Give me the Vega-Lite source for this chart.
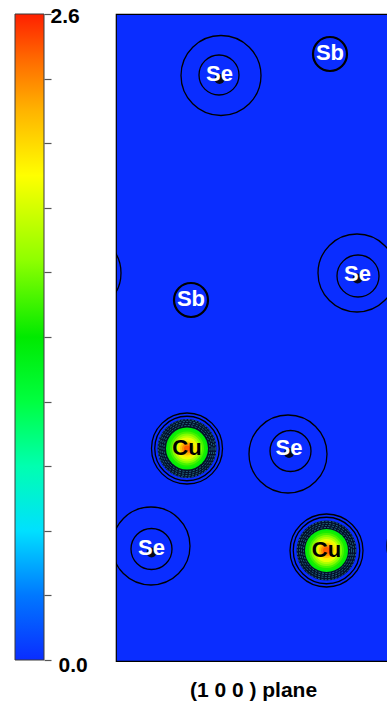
{
  "$schema": "https://vega.github.io/schema/vega-lite/v6.json",
  "padding": {"left": 14, "top": 5, "right": 0, "bottom": 0},
  "background": "white",
  "spacing": 72,
  "bounds": "flush",
  "config": {
    "font": "Liberation Sans",
    "view": {"stroke": null}
  },
  "datasets": {
    "atoms": [
      {"el": "Se", "x": 2.07, "y": 11.72},
      {"el": "Sb", "x": 4.28, "y": 12.14},
      {"el": "Se", "x": 4.83, "y": 7.73},
      {"el": "Sb", "x": 1.50, "y": 7.22},
      {"el": "Cu", "x": 1.42, "y": 4.25},
      {"el": "Se", "x": 3.46, "y": 4.24},
      {"el": "Se", "x": 0.71, "y": 2.25},
      {"el": "Cu", "x": 4.21, "y": 2.21}
    ],
    "rings": [
      {"kind": "contour", "x": 2.06, "y": 11.72, "r": 0.40},
      {"kind": "contour", "x": 2.10, "y": 11.71, "r": 0.80},
      {"kind": "sb", "x": 4.28, "y": 12.14, "r": 0.34},
      {"kind": "contour", "x": 4.84, "y": 7.70, "r": 0.42},
      {"kind": "contour", "x": 4.82, "y": 7.76, "r": 0.78},
      {"kind": "contour", "x": -0.68, "y": 7.76, "r": 0.78},
      {"kind": "sb", "x": 1.50, "y": 7.22, "r": 0.34},
      {"kind": "contour", "x": 1.42, "y": 4.25, "r": 0.71},
      {"kind": "contour", "x": 1.42, "y": 4.25, "r": 0.645},
      {"kind": "contour", "x": 3.49, "y": 4.20, "r": 0.41},
      {"kind": "contour", "x": 3.44, "y": 4.14, "r": 0.78},
      {"kind": "contour", "x": 0.71, "y": 2.24, "r": 0.41},
      {"kind": "contour", "x": 0.70, "y": 2.30, "r": 0.78},
      {"kind": "contour", "x": 6.20, "y": 2.30, "r": 0.78},
      {"kind": "contour", "x": 4.21, "y": 2.21, "r": 0.73},
      {"kind": "contour", "x": 4.21, "y": 2.21, "r": 0.665},
      {"kind": "band", "x": 1.42, "y": 4.25, "r": 0.59},
      {"kind": "band", "x": 4.21, "y": 2.21, "r": 0.60},
      {"kind": "dense", "x": 1.42, "y": 4.25, "r": 0.46},
      {"kind": "dense", "x": 1.42, "y": 4.25, "r": 0.50},
      {"kind": "dense", "x": 1.42, "y": 4.25, "r": 0.54},
      {"kind": "dense", "x": 1.42, "y": 4.25, "r": 0.575},
      {"kind": "dense", "x": 4.21, "y": 2.21, "r": 0.46},
      {"kind": "dense", "x": 4.21, "y": 2.21, "r": 0.50},
      {"kind": "dense", "x": 4.21, "y": 2.21, "r": 0.54},
      {"kind": "dense", "x": 4.21, "y": 2.21, "r": 0.585}
    ],
    "cu_shells": [
      {"x": 1.42, "y": 4.25,
       "r": [0.42, 0.38, 0.34, 0.30, 0.26, 0.22, 0.18, 0.14, 0.10, 0.06],
       "rho": [1.25, 1.35, 1.45, 1.58, 1.72, 1.88, 2.02, 2.18, 2.32, 2.45]},
      {"x": 4.21, "y": 2.21,
       "r": [0.43, 0.39, 0.35, 0.31, 0.27, 0.23, 0.19, 0.15, 0.11, 0.07],
       "rho": [1.25, 1.35, 1.45, 1.58, 1.72, 1.88, 2.02, 2.18, 2.32, 2.45]}
    ]
  },
  "hconcat": [
    {
      "width": 29,
      "height": 646,
      "data": {"values": [{"lo": 0, "hi": 2.6}]},
      "mark": {
        "type": "rect",
        "stroke": "#3a3a3a",
        "strokeWidth": 1,
        "fill": {
          "gradient": "linear",
          "x1": 0, "y1": 1, "x2": 0, "y2": 0,
          "stops": [
            {"offset": 0.0, "color": "#0a2dff"},
            {"offset": 0.1, "color": "#0078ff"},
            {"offset": 0.2, "color": "#00e0ff"},
            {"offset": 0.3, "color": "#00ffb0"},
            {"offset": 0.4, "color": "#00ff40"},
            {"offset": 0.5, "color": "#00ea00"},
            {"offset": 0.62, "color": "#90ff00"},
            {"offset": 0.75, "color": "#ffff00"},
            {"offset": 0.85, "color": "#ffb400"},
            {"offset": 0.93, "color": "#ff6a00"},
            {"offset": 1.0, "color": "#ff2000"}
          ]
        }
      },
      "encoding": {
        "y": {
          "field": "lo", "type": "quantitative",
          "scale": {"domain": [0, 2.6], "nice": false, "zero": false},
          "axis": {
            "orient": "right",
            "title": null,
            "values": [0, 0.26, 0.52, 0.78, 1.04, 1.3, 1.56, 1.82, 2.08, 2.34, 2.6],
            "domain": false,
            "grid": false,
            "tickSize": 7,
            "tickColor": "#555555",
            "tickWidth": 1.2,
            "labelExpr": "datum.value === 0 ? '0.0' : (datum.value === 2.6 ? '2.6' : '')",
            "labelFont": "Liberation Sans",
            "labelFontSize": 21,
            "labelFontWeight": "bold",
            "labelColor": "black",
            "labelFlush": false,
            "labelOverlap": false,
            "labelBound": false,
            "labelPadding": {"condition": {"test": "datum.value === 0", "value": 7}, "value": -1},
            "labelOffset": {"condition": {"test": "datum.value === 0", "value": 5}, "value": 2}
          }
        },
        "y2": {"field": "hi"}
      }
    },
    {
      "width": 275,
      "height": 647,
      "view": {"fill": "#0a2dff", "stroke": "black", "strokeWidth": 1.2},
      "title": {
        "text": "(1 0 0 ) plane",
        "orient": "bottom",
        "anchor": "middle",
        "font": "Liberation Sans",
        "fontSize": 21,
        "fontWeight": "bold",
        "color": "black",
        "offset": 19
      },
      "encoding": {
        "x": {"field": "x", "type": "quantitative",
              "scale": {"domain": [0, 5.5], "nice": false, "zero": false}, "axis": null},
        "y": {"field": "y", "type": "quantitative",
              "scale": {"domain": [0, 12.94], "nice": false, "zero": false}, "axis": null}
      },
      "layer": [
        {
          "data": {"name": "rings"},
          "transform": [{"filter": "datum.kind === 'band'"}],
          "mark": {"type": "point", "shape": "circle", "filled": true, "opacity": 1, "fill": "#04102a", "strokeWidth": 0, "clip": true},
          "encoding": {
            "size": {"field": "r", "type": "quantitative", "legend": null,
                     "scale": {"type": "pow", "exponent": 2, "domain": [0, 1], "range": [0, 10000]}}
          }
        },
        {
          "data": {"name": "rings"},
          "transform": [{"filter": "datum.kind === 'dense'"}],
          "mark": {"type": "point", "shape": "circle", "filled": false, "opacity": 0.7, "stroke": "#3cb4cc", "strokeWidth": 0.8, "strokeDash": [2, 1.5], "clip": true},
          "encoding": {
            "size": {"field": "r", "type": "quantitative", "legend": null,
                     "scale": {"type": "pow", "exponent": 2, "domain": [0, 1], "range": [0, 10000]}}
          }
        },
        {
          "data": {"name": "cu_shells"},
          "transform": [{"flatten": ["r", "rho"]}],
          "mark": {"type": "point", "shape": "circle", "filled": true, "opacity": 1, "strokeWidth": 0, "clip": true},
          "encoding": {
            "size": {"field": "r", "type": "quantitative", "legend": null,
                     "scale": {"type": "pow", "exponent": 2, "domain": [0, 1], "range": [0, 10000]}},
            "color": {
              "field": "rho", "type": "quantitative", "legend": null,
              "scale": {
                "domain": [0, 0.26, 0.52, 0.78, 1.04, 1.3, 1.612, 1.95, 2.21, 2.418, 2.6],
                "range": ["#0a2dff", "#0078ff", "#00e0ff", "#00ffb0", "#00ff40", "#00ea00", "#90ff00", "#ffff00", "#ffb400", "#ff6a00", "#ff2000"],
                "interpolate": "rgb"
              }
            }
          }
        },
        {
          "data": {"name": "rings"},
          "transform": [{"filter": "datum.kind === 'contour'"}],
          "mark": {"type": "point", "shape": "circle", "filled": false, "opacity": 1, "stroke": "black", "strokeWidth": 1.3, "clip": true},
          "encoding": {
            "size": {"field": "r", "type": "quantitative", "legend": null,
                     "scale": {"type": "pow", "exponent": 2, "domain": [0, 1], "range": [0, 10000]}}
          }
        },
        {
          "data": {"name": "rings"},
          "transform": [{"filter": "datum.kind === 'sb'"}],
          "mark": {"type": "point", "shape": "circle", "filled": false, "opacity": 1, "stroke": "black", "strokeWidth": 2.2, "clip": true},
          "encoding": {
            "size": {"field": "r", "type": "quantitative", "legend": null,
                     "scale": {"type": "pow", "exponent": 2, "domain": [0, 1], "range": [0, 10000]}}
          }
        },
        {
          "data": {"name": "atoms"},
          "transform": [{"filter": "datum.el === 'Se'"}],
          "mark": {"type": "point", "shape": "circle", "filled": true, "opacity": 1, "fill": "#06081a", "strokeWidth": 0, "size": 100, "yOffset": 4}
        },
        {
          "data": {"name": "atoms"},
          "mark": {"type": "text", "font": "Liberation Sans", "fontSize": 22, "fontWeight": "bold", "baseline": "middle", "align": "center", "dy": -1},
          "encoding": {
            "text": {"field": "el"},
            "color": {"condition": {"test": "datum.el === 'Cu'", "value": "black"}, "value": "white"}
          }
        }
      ]
    }
  ]
}
